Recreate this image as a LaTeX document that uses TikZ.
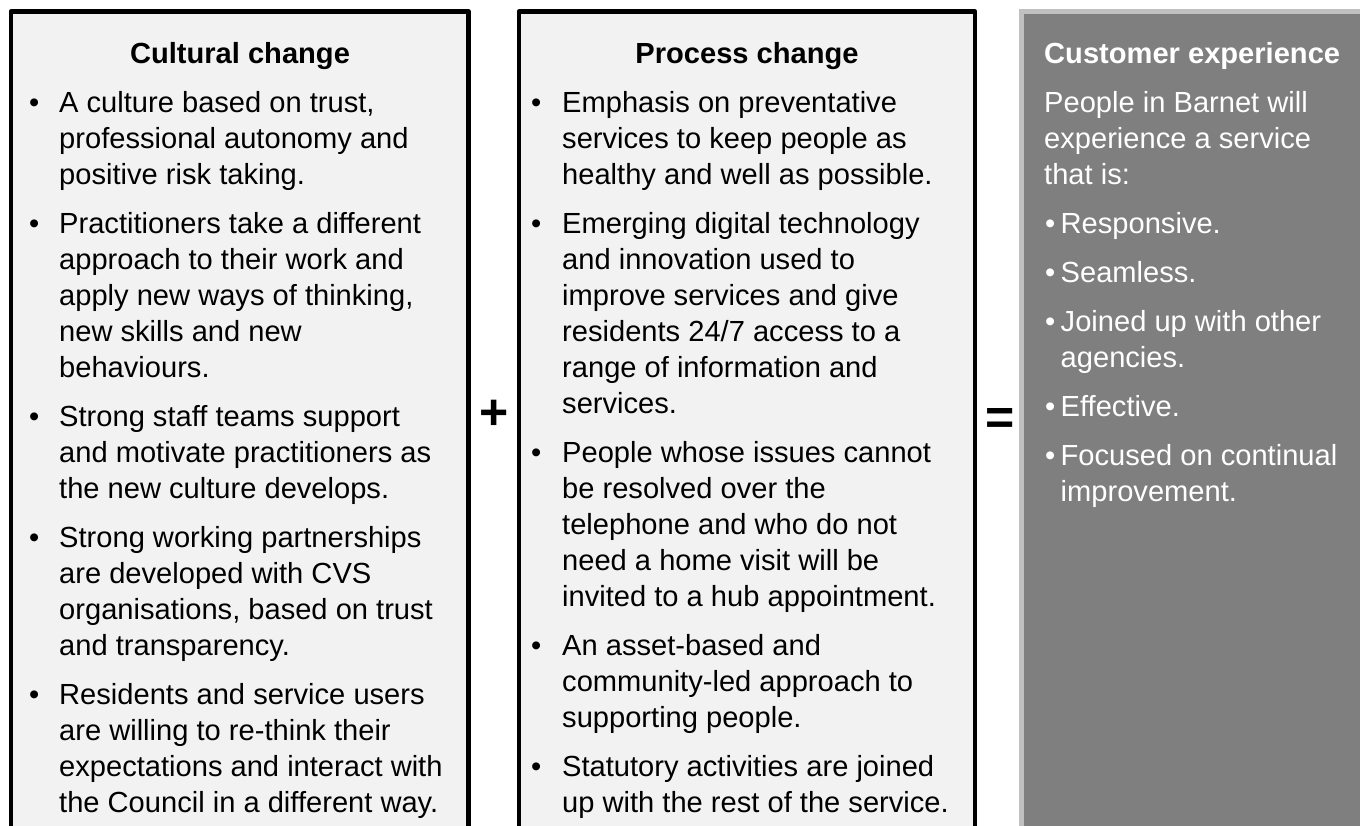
\documentclass[tikz,border=0pt]{standalone}
\usepackage{fontspec}
\setmainfont{Liberation Sans}

\definecolor{panelfill}{HTML}{F2F2F2}
\definecolor{outcomefill}{HTML}{7F7F7F}
\definecolor{outcomeedge}{HTML}{C0C0C0}

% stacked lines whose baseline is the baseline of the first line
\newcommand{\txtlines}[1]{\begin{tabular}[t]{@{}l@{}}#1\end{tabular}}
\newcommand{\bodysize}{\fontsize{29.1}{36}\selectfont}

\begin{document}
\begin{tikzpicture}[x=1pt,y=-1pt,
  panel/.style={draw=black, line width=4.5pt, fill=panelfill, line join=round,
                anchor=north west, inner sep=0pt, outer sep=0pt},
  outcome/.style={draw=outcomeedge, line width=5pt, fill=outcomefill,
                anchor=north west, inner sep=0pt, outer sep=0pt},
  heading/.style={font=\bodysize\bfseries, inner sep=0pt, anchor=base},
  item/.style={font=\bodysize, inner sep=0pt, anchor=base west},
  dot/.style={font=\bodysize, inner sep=0pt, anchor=base west},
  light/.style={text=white},
  operator/.style={font=\fontsize{50}{50}\selectfont\bfseries, inner sep=0pt}]

\useasboundingbox (0,0) rectangle (1360,825);
\clip (0,0) rectangle (1360,825);

% three panels, running past the lower edge
\node[panel, minimum width=457.5pt, minimum height=900pt] (cultural) at (11,11.5) {};
\node[panel, minimum width=456pt, minimum height=900pt] (process) at (519,11.5) {};
\node[outcome, minimum width=400pt, minimum height=900pt] (customer) at (1021.5,11.5) {};

% operators between the panels
\node[operator] (plus) at (494.5,415) {+};
\node[operator] (equals) at (1000.5,421.5) {=};

% ---- Cultural change ----
\node[heading] (cultitle) at (240,63.5) {Cultural change};
\foreach \y/\n in {112/1,233/2,426/3,547/4,704/5}
  \node[dot] (culdot\n) at (29,\y) {•};
\node[item] (cul1) at (59,112) {\txtlines{A culture based on trust,\\professional autonomy and\\positive risk taking.}};
\node[item] (cul2) at (59,233) {\txtlines{Practitioners take a different\\approach to their work and\\apply new ways of thinking,\\new skills and new\\behaviours.}};
\node[item] (cul3) at (59,426) {\txtlines{Strong staff teams support\\and motivate practitioners as\\the new culture develops.}};
\node[item] (cul4) at (59,547) {\txtlines{Strong working partnerships\\are developed with CVS\\organisations, based on trust\\and transparency.}};
\node[item] (cul5) at (59,704) {\txtlines{Residents and service users\\are willing to re-think their\\expectations and interact with\\the Council in a different way.}};

% ---- Process change ----
\node[heading] (protitle) at (747,63.5) {Process change};
\foreach \y/\n in {112/1,233/2,462/3,655/4,776/5}
  \node[dot] (prodot\n) at (531,\y) {•};
\node[item] (pro1) at (562,112) {\txtlines{Emphasis on preventative\\services to keep people as\\healthy and well as possible.}};
\node[item] (pro2) at (562,233) {\txtlines{Emerging digital technology\\and innovation used to\\improve services and give\\residents 24/7 access to a\\range of information and\\services.}};
\node[item] (pro3) at (562,462) {\txtlines{People whose issues cannot\\be resolved over the\\telephone and who do not\\need a home visit will be\\invited to a hub appointment.}};
\node[item] (pro4) at (562,655) {\txtlines{An asset-based and\\community-led approach to\\supporting people.}};
\node[item] (pro5) at (562,776) {\txtlines{Statutory activities are joined\\up with the rest of the service.}};

% ---- Customer experience ----
\node[heading, light, anchor=base west] (custitle) at (1044,63.5) {Customer experience};
\node[item, light] (cusintro) at (1044,112) {\txtlines{People in Barnet will\\experience a service\\that is:}};
\foreach \y/\n in {233/1,282/2,331/3,416/4,465/5}
  \node[dot, light] (cusdot\n) at (1045,\y) {•};
\node[item, light] (cus1) at (1060.5,233) {Responsive.};
\node[item, light] (cus2) at (1060.5,282) {Seamless.};
\node[item, light] (cus3) at (1060.5,331) {\txtlines{Joined up with other\\agencies.}};
\node[item, light] (cus4) at (1060.5,416) {Effective.};
\node[item, light] (cus5) at (1060.5,465) {\txtlines{Focused on continual\\improvement.}};

\end{tikzpicture}
\end{document}
